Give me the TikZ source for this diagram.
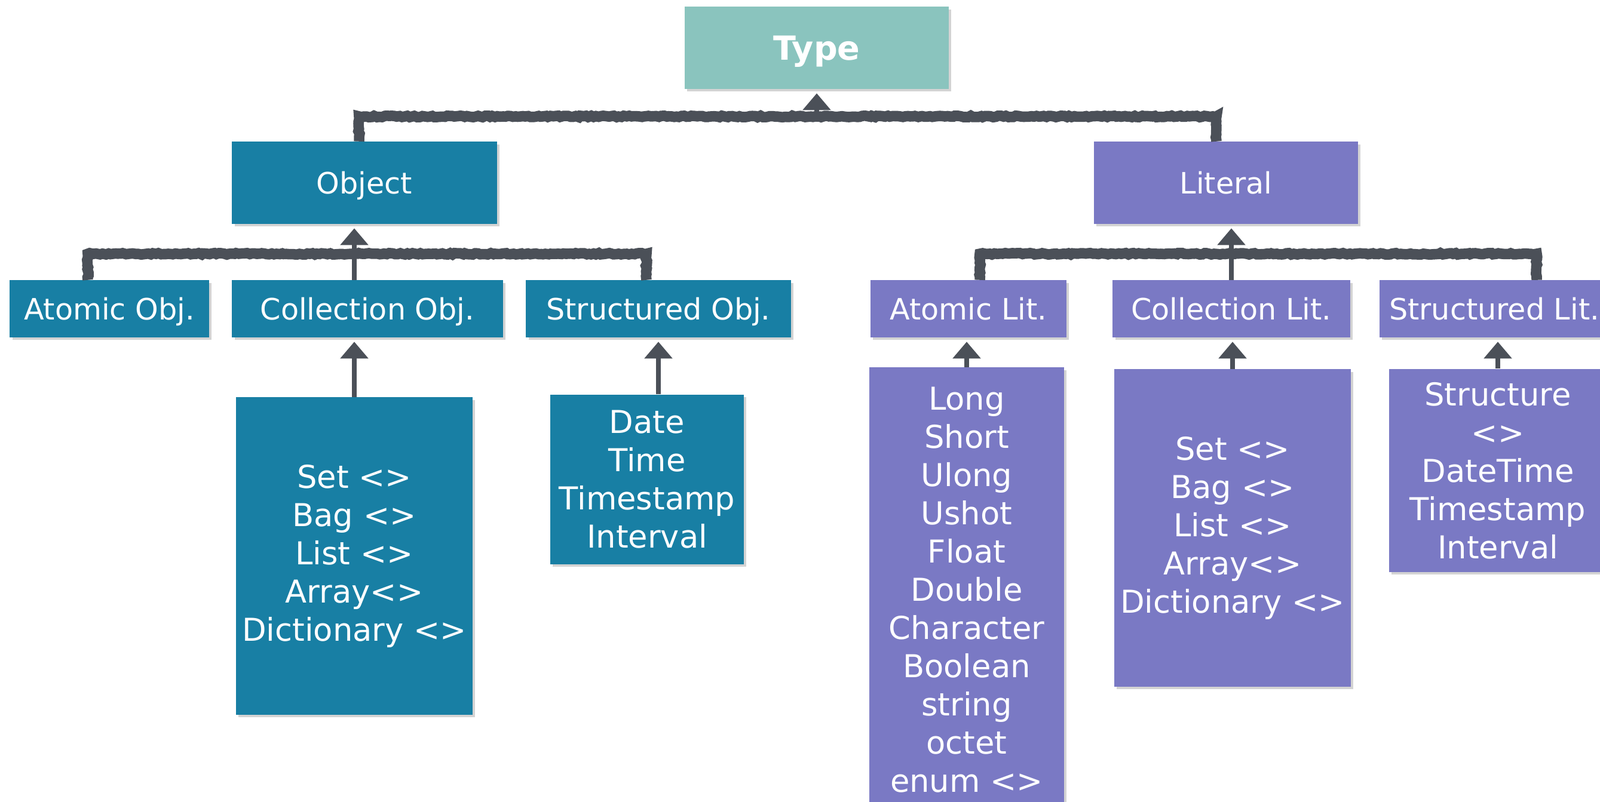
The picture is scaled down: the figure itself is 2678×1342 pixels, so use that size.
\documentclass[tikz,border=0pt]{standalone}
\usepackage{fontspec}
\setmainfont{DejaVu Sans}
\usetikzlibrary{arrows.meta,shadows,decorations.pathmorphing}
\definecolor{typecol}{HTML}{8AC4BE}
\definecolor{objcol}{HTML}{187FA4}
\definecolor{litcol}{HTML}{7A79C4}
\definecolor{linkcol}{HTML}{4B5058}
\tikzset{
	box/.style={text=white,inner sep=0pt,align=center,font=\fontsize{15}{18.2}\selectfont,
		drop shadow={shadow xshift=1.2pt,shadow yshift=-1.2pt,opacity=.35}},
	row/.style={font=\fontsize{14}{18.2}\selectfont,text height=10.5pt,text depth=0pt},
	objbox/.style={box,fill=objcol},
	litbox/.style={box,fill=litcol},
	bar/.style={linkcol,line width=5pt,decorate,decoration={random steps,segment length=1.2pt,amplitude=.35pt}},
	up/.style={linkcol,line width=2.2pt,shorten >=2pt,-{Triangle[width=13pt,length=8pt]}},
}
\begin{document}
\begin{tikzpicture}[x=0.01cm,y=-0.01cm]
	\useasboundingbox (0,0) rectangle (2678,1342);

	\node [box,fill=typecol,minimum width=4.42cm,minimum height=1.37cm,font=\fontsize{15.8}{18}\selectfont\bfseries,text height=11.5pt,text depth=0pt] (type) at (1367,80) {Type};

	\node [objbox,row,minimum width=4.43cm,minimum height=1.37cm] (object) at (610,306) {Object};
	\node [litbox,row,minimum width=4.42cm,minimum height=1.37cm] (literal) at (2052,306) {Literal};

	\node [objbox,row,minimum width=3.33cm,minimum height=.95cm] (aobj) at (183,517) {Atomic Obj.};
	\node [objbox,row,minimum width=4.53cm,minimum height=.95cm] (cobj) at (615,517) {Collection Obj.};
	\node [objbox,row,minimum width=4.43cm,minimum height=.95cm] (sobj) at (1102,517) {Structured Obj.};

	\node [litbox,row,minimum width=3.28cm,minimum height=.95cm] (alit) at (1621,517) {Atomic Lit.};
	\node [litbox,row,minimum width=3.97cm,minimum height=.95cm] (clit) at (2061,517) {Collection Lit.};
	\node [litbox,row,minimum width=3.84cm,minimum height=.95cm] (slit) at (2501,517) {Structured Lit.};

	\node [objbox,minimum width=3.96cm,minimum height=5.31cm] (cset) at (593,931)
		{Set <>\\Bag <>\\List <>\\Array<>\\Dictionary <>};
	\node [objbox,minimum width=3.24cm,minimum height=2.84cm] (sset) at (1083,803)
		{Date\\Time\\Timestamp\\Interval};
	\node [litbox,minimum width=3.26cm,minimum height=7.45cm] (aset) at (1618,988)
		{Long\\Short\\Ulong\\Ushot\\Float\\Double\\Character\\Boolean\\string\\octet\\enum <>};
	\node [litbox,minimum width=3.96cm,minimum height=5.31cm] (clset) at (2063,884)
		{Set <>\\Bag <>\\List <>\\Array<>\\Dictionary <>};
	\node [litbox,minimum width=3.64cm,minimum height=3.40cm] (slset) at (2507,788)
		{Structure\\<>\\DateTime\\Timestamp\\Interval};

	\coordinate (tbar) at (1367,195);
	\coordinate (obar) at (593,425);
	\coordinate (lbar) at (2061,425);

	\draw [bar] ([xshift=-.09cm]object.north) |- (tbar) -| ([xshift=-.16cm]literal.north);
	\draw [up] (tbar) -- (type.south);

	\draw [bar] ([xshift=-.36cm]aobj.north) |- (obar) -| ([xshift=-.2cm]sobj.north);
	\draw [up] (cset.north |- cobj.north) -- (cset.north |- object.south);
	\draw [bar] ([xshift=.19cm]alit.north) |- (lbar) -| ([xshift=.71cm]slit.north);
	\draw [up] (clit.north) -- (clit.north |- literal.south);

	\draw [up] (cset.north) -- (cset.north |- cobj.south);
	\draw [up] (sset.north -| sobj.north) -- (sobj.south);
	\draw [up] (aset.north) -- (aset.north |- alit.south);
	\draw [up] (clset.north) -- (clset.north |- clit.south);
	\draw [up] (slset.north) -- (slset.north |- slit.south);
\end{tikzpicture}
\end{document}
